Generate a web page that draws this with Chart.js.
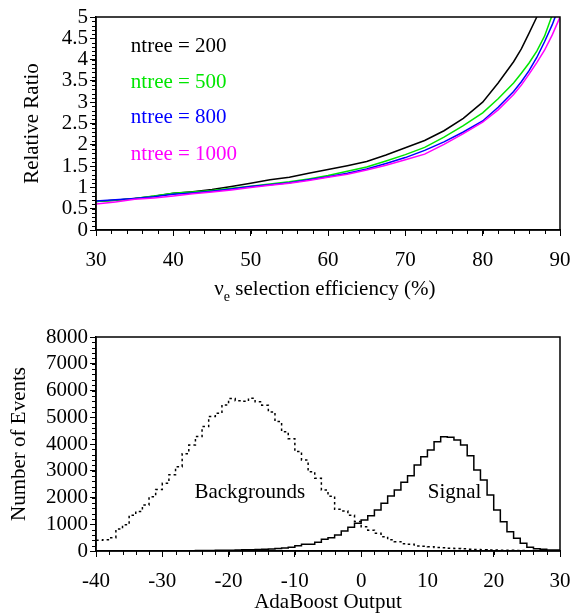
<!DOCTYPE html>
<html>
<head>
<meta charset="utf-8">
<script src="https://cdn.jsdelivr.net/npm/chart.js@4/dist/chart.umd.min.js"></script>
<style>
  html, body { margin: 0; padding: 0; background: #fff; }
  #wrap { position: relative; width: 587px; height: 615px; }
  .box { position: absolute; left: 0; width: 587px; }
</style>
</head>
<body>
<div id="wrap">
  <div class="box" style="top:0;height:310px"><canvas id="ratioChart"></canvas></div>
  <div class="box" style="top:310px;height:305px"><canvas id="boostChart"></canvas></div>
</div>
<script>
// top panel: relative ratio vs nu_e selection efficiency
const efficiency = [30, 32.5, 35, 37.5, 40, 42.5, 45, 47.5, 50, 52.5, 55, 57.5, 60, 62.5, 65, 67.5, 70, 72.5, 75, 77.5, 80, 82, 84, 85, 86, 87, 88, 89, 90];
const ratio200  = [0.67, 0.70, 0.74, 0.79, 0.86, 0.90, 0.95, 1.02, 1.10, 1.18, 1.24, 1.33, 1.42, 1.51, 1.61, 1.76, 1.93, 2.10, 2.33, 2.62, 3.00, 3.45, 3.95, 4.25, 4.62, 5.00, 5.45, null, null];
const ratio500  = [0.67, 0.70, 0.74, 0.80, 0.86, 0.89, 0.93, 0.98, 1.03, 1.08, 1.13, 1.20, 1.28, 1.38, 1.48, 1.62, 1.77, 1.94, 2.18, 2.45, 2.75, 3.08, 3.45, 3.68, 3.92, 4.20, 4.55, 5.05, null];
const ratio800  = [0.68, 0.71, 0.74, 0.78, 0.84, 0.87, 0.91, 0.96, 1.02, 1.06, 1.11, 1.18, 1.25, 1.33, 1.43, 1.56, 1.70, 1.87, 2.07, 2.30, 2.56, 2.88, 3.25, 3.48, 3.74, 4.05, 4.42, 4.82, 5.30];
const ratio1000 = [0.61, 0.66, 0.72, 0.75, 0.80, 0.85, 0.89, 0.94, 1.00, 1.05, 1.10, 1.16, 1.24, 1.31, 1.41, 1.52, 1.65, 1.78, 2.01, 2.26, 2.53, 2.82, 3.18, 3.40, 3.66, 3.93, 4.22, 4.58, 5.00];

// bottom panel: AdaBoost output histograms, bins of width 1 from -40 to 30
const boostBins = [-40, -39, -38, -37, -36, -35, -34, -33, -32, -31, -30, -29, -28, -27, -26, -25, -24, -23, -22, -21,
  -20, -19, -18, -17, -16, -15, -14, -13, -12, -11, -10, -9, -8, -7, -6, -5, -4, -3, -2, -1,
  0, 1, 2, 3, 4, 5, 6, 7, 8, 9, 10, 11, 12, 13, 14, 15, 16, 17, 18, 19,
  20, 21, 22, 23, 24, 25, 26, 27, 28, 29, 30];
const backgrounds = [200, 400, 420, 500, 820, 980, 1340, 1480, 1720, 2030,
  2300, 2530, 2850, 3150, 3640, 3960, 4280, 4650, 5030, 5150,
  5460, 5700, 5620, 5600, 5710, 5580, 5450, 5200, 4840, 4460,
  4200, 3720, 3400, 2960, 2720, 2280, 2050, 1560, 1500, 1340,
  1100, 910, 780, 660, 530, 420, 350, 270, 250, 190,
  180, 160, 130, 120, 100, 90, 80, 70, 60, 50,
  40, 35, 30, 25, 20, 15, 10, 8, 5, 3];
const signal = [5, 5, 5, 5, 5, 6, 6, 7, 7, 8,
  8, 9, 10, 11, 12, 14, 15, 17, 20, 24,
  28, 32, 37, 43, 50, 58, 66, 78, 95, 115,
  137, 199, 249, 249, 324, 436, 498, 598, 748, 885,
  1034, 1159, 1321, 1533, 1782, 2056, 2280, 2567, 2815, 3215,
  3526, 3775, 4087, 4274, 4249, 4149, 3962, 3564, 3028, 2654,
  2093, 1533, 1097, 723, 473, 287, 137, 87, 62, 37];

const serif = "'Liberation Serif', 'Times New Roman', serif";
const font21 = { family: serif, size: 21 };

Chart.defaults.font.family = serif;
Chart.defaults.color = '#000';

// histogram -> step line points (left edges, plus closing right edge)
function histPoints(counts) {
  return boostBins.map((edge, i) => ({ x: edge, y: i < counts.length ? counts[i] : counts[counts.length - 1] }));
}

// box around plot, minor ticks, text labels, x title with subscript
const decor = {
  id: 'decor',
  afterDraw(chart, args, opts) {
    const { ctx, chartArea: a, scales } = chart;
    ctx.save();
    ctx.strokeStyle = '#000';
    ctx.lineWidth = 1.5;
    ctx.strokeRect(a.left, a.top, a.right - a.left, a.bottom - a.top);

    ctx.lineWidth = 1;
    const xs = scales.x, ys = scales.y;
    const nx = Math.round((xs.max - xs.min) / opts.xMinor);
    for (let i = 0; i <= nx; i++) {
      const px = Math.round(xs.getPixelForValue(xs.min + i * opts.xMinor)) + 0.5;
      ctx.beginPath(); ctx.moveTo(px, a.bottom); ctx.lineTo(px, a.bottom + 4); ctx.stroke();
    }
    const ny = Math.round((ys.max - ys.min) / opts.yMinor);
    for (let i = 0; i <= ny; i++) {
      const py = Math.round(ys.getPixelForValue(ys.min + i * opts.yMinor)) + 0.5;
      ctx.beginPath(); ctx.moveTo(a.left, py); ctx.lineTo(a.left - 4, py); ctx.stroke();
    }

    ctx.font = "21px " + serif;
    ctx.textBaseline = 'middle';
    (opts.labels || []).forEach(l => {
      ctx.fillStyle = l.color || '#000';
      ctx.textAlign = l.align || 'left';
      ctx.fillText(l.text, xs.getPixelForValue(l.x), ys.getPixelForValue(l.y));
    });

    // x-axis title made of parts, some subscripted
    if (opts.xTitle) {
      ctx.fillStyle = '#000';
      ctx.textAlign = 'left';
      ctx.textBaseline = 'alphabetic';
      const parts = opts.xTitle.map(p => {
        ctx.font = (p.sub ? 14 : 21) + "px " + serif;
        return { text: p.text, sub: p.sub, w: ctx.measureText(p.text).width };
      });
      const total = parts.reduce((s, p) => s + p.w, 0);
      let x = xs.getPixelForValue(opts.xTitleX) - total / 2;
      const base = opts.xTitleBase;
      parts.forEach(p => {
        ctx.font = (p.sub ? 14 : 21) + "px " + serif;
        ctx.fillText(p.text, x, p.sub ? base + 6 : base);
        x += p.w;
      });
    }
    ctx.restore();
  }
};

function axis(min, max, step, title, titlePad, size, horizontal) {
  return {
    type: 'linear',
    min: min,
    max: max,
    border: { color: '#000', width: 1.5 },
    grid: { drawOnChartArea: false, color: '#000', tickLength: 6, tickWidth: 1 },
    ticks: { stepSize: step, font: font21, color: '#000', padding: horizontal ? 12 : 2,
      maxRotation: 0, autoSkip: false, callback: v => String(v) },
    title: { display: title !== '', text: title, font: font21, color: '#000', padding: titlePad },
    afterFit(scale) {
      if (horizontal) scale.height = size; else scale.width = size;
    }
  };
}

const series = [
  { label: 'ntree = 200', data: ratio200, color: '#000000', y: 4.30 },
  { label: 'ntree = 500', data: ratio500, color: '#00e600', y: 3.47 },
  { label: 'ntree = 800', data: ratio800, color: '#0000ff', y: 2.63 },
  { label: 'ntree = 1000', data: ratio1000, color: '#ff00ff', y: 1.78 }
];

new Chart(document.getElementById('ratioChart'), {
  type: 'line',
  data: {
    datasets: series.map(s => ({
      label: s.label,
      data: efficiency.map((e, i) => ({ x: e, y: s.data[i] })),
      borderColor: s.color,
      borderWidth: 1.5,
      pointRadius: 0,
      tension: 0,
      spanGaps: false
    })).reverse()
  },
  options: {
    responsive: true,
    maintainAspectRatio: false,
    animation: false,
    layout: { padding: { left: 0, right: 27, top: 17, bottom: 0 } },
    plugins: {
      legend: { display: false },
      tooltip: { enabled: false },
      decor: {
        xMinor: 2, yMinor: 0.1,
        labels: series.map(s => ({ text: s.label, x: 34.5, y: s.y, color: s.color })),
        xTitle: [{ text: 'ν' }, { text: 'e', sub: true }, { text: ' selection efficiency (%)' }],
        xTitleX: 59.6,
        xTitleBase: 295
      }
    },
    scales: {
      x: axis(30, 90, 10, '', { top: 0, bottom: 10 }, 80, true),
      y: axis(0, 5, 0.5, 'Relative Ratio', { top: 20, bottom: 0 }, 96, false)
    }
  },
  plugins: [decor]
});

new Chart(document.getElementById('boostChart'), {
  type: 'line',
  data: {
    datasets: [
      {
        label: 'Signal',
        data: histPoints(signal),
        borderColor: '#000',
        borderWidth: 1.5,
        pointRadius: 0,
        stepped: 'after'
      },
      {
        label: 'Backgrounds',
        data: histPoints(backgrounds),
        borderColor: '#000',
        borderWidth: 1.5,
        borderDash: [2.5, 3],
        pointRadius: 0,
        stepped: 'after'
      }
    ]
  },
  options: {
    responsive: true,
    maintainAspectRatio: false,
    animation: false,
    layout: { padding: { left: 0, right: 27, top: 27, bottom: 0 } },
    plugins: {
      legend: { display: false },
      tooltip: { enabled: false },
      decor: {
        xMinor: 2, yMinor: 200,
        labels: [
          { text: 'Backgrounds', x: -16.8, y: 2205, align: 'center' },
          { text: 'Signal', x: 14.1, y: 2205, align: 'center' }
        ]
      }
    },
    scales: {
      x: axis(-40, 30, 10, 'AdaBoost Output', { top: 0, bottom: 0 }, 64, true),
      y: axis(0, 8000, 1000, 'Number of Events', { top: 7, bottom: 0 }, 96, false)
    }
  },
  plugins: [decor]
});
</script>
</body>
</html>
